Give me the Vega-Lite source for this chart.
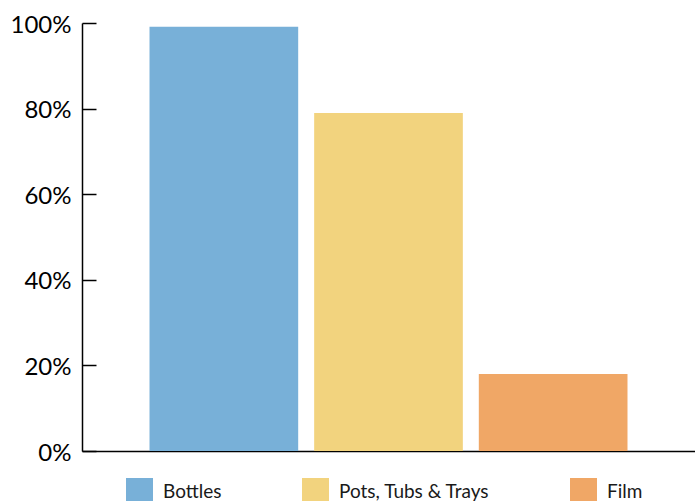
{
  "$schema": "https://vega.github.io/schema/vega-lite/v6.json",
  "autosize": "none",
  "padding": {"left": 82, "top": 23, "right": 0, "bottom": 50},
  "width": 613,
  "height": 428,
  "background": "white",
  "config": {"view": {"stroke": null}, "font": "Lato"},
  "data": {
    "values": [
      {"category": "Bottles", "share": 0.991},
      {"category": "Pots, Tubs & Trays", "share": 0.790},
      {"category": "Film", "share": 0.180}
    ]
  },
  "mark": {"type": "bar"},
  "encoding": {
    "x": {
      "field": "category",
      "type": "nominal",
      "sort": null,
      "scale": {"paddingInner": 0.097, "paddingOuter": 0.41},
      "axis": {
        "title": null,
        "labels": false,
        "ticks": false,
        "domainColor": "black",
        "domainWidth": 1.5
      }
    },
    "y": {
      "field": "share",
      "type": "quantitative",
      "scale": {"domain": [0, 1], "nice": false},
      "axis": {
        "title": null,
        "format": ".0%",
        "values": [0, 0.2, 0.4, 0.6, 0.8, 1],
        "grid": false,
        "domainColor": "black",
        "domainWidth": 1.5,
        "tickColor": "black",
        "tickWidth": 1.5,
        "tickSize": -14,
        "labelPadding": 25,
        "labelFont": "Lato",
        "labelFontSize": 24,
        "labelColor": "black",
        "labelOffset": 2
      }
    },
    "color": {
      "field": "category",
      "type": "nominal",
      "sort": null,
      "scale": {
        "domain": ["Bottles", "Pots, Tubs & Trays", "Film"],
        "range": ["#78B0D8", "#F2D37E", "#F0A766"]
      },
      "legend": {
        "title": null,
        "orient": "none",
        "direction": "horizontal",
        "columns": 3,
        "legendX": 44,
        "legendY": 455,
        "padding": 0,
        "symbolType": "square",
        "symbolSize": 729,
        "symbolStrokeWidth": 0,
        "labelOffset": 10,
        "columnPadding": 80,
        "labelFont": "Lato",
        "labelFontSize": 19,
        "labelColor": "#1a1a1a",
        "labelLimit": 300
      }
    }
  }
}
